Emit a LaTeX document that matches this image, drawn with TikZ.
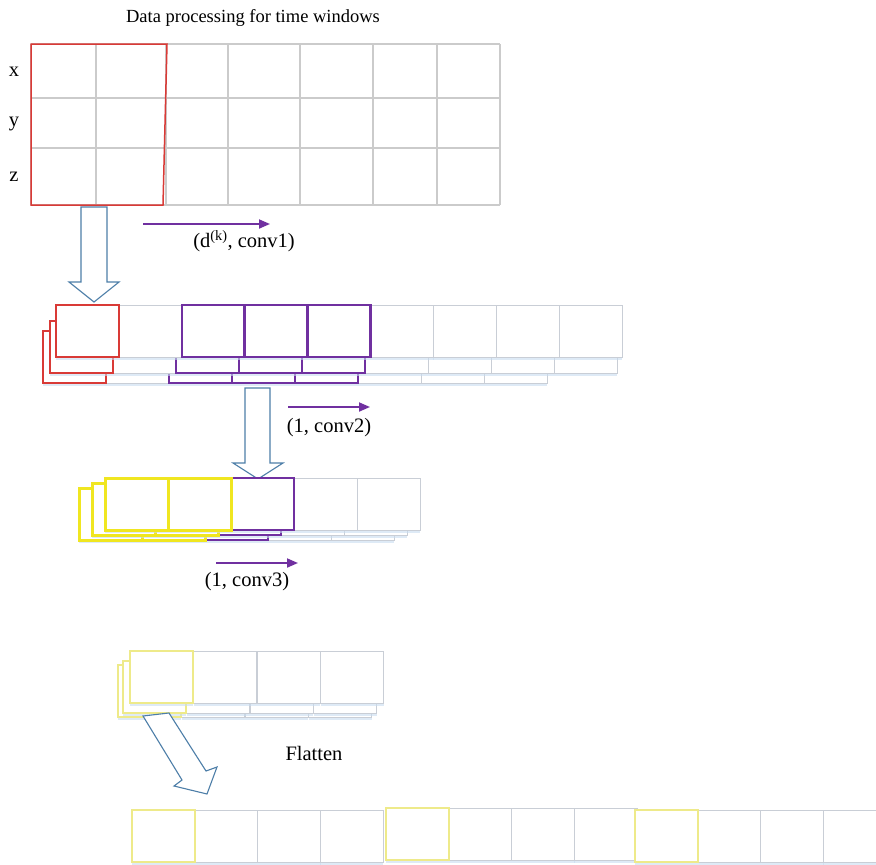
\documentclass[tikz,border=0pt]{standalone}
\usepackage{fontspec}
\setmainfont{Liberation Serif}
\usetikzlibrary{shadows,arrows.meta}

\definecolor{cellgrey}{HTML}{C9CED6}
\definecolor{gridgrey}{HTML}{CBCBCB}
\definecolor{winred}{HTML}{D93A36}
\definecolor{convpurple}{HTML}{7030A0}
\definecolor{poolyellow}{HTML}{F0E620}
\definecolor{paleyellow}{HTML}{EEEA8A}
\definecolor{arrowblue}{HTML}{4D7EA8}
\definecolor{shadowblue}{HTML}{C8DCF0}

\tikzset{
  cell/.style={draw=cellgrey, line width=1pt, fill=white,
    minimum width=63pt, minimum height=52pt, inner sep=0pt, outer sep=0pt,
    anchor=north west,
    drop shadow={shadow xshift=0pt, shadow yshift=-2.5pt, fill=shadowblue, opacity=0.6}},
  redcell/.style={cell, draw=winred, line width=1.2pt},
  purplecell/.style={cell, draw=convpurple, line width=2.6pt},
  thinpurple/.style={cell, draw=convpurple, line width=1.2pt},
  yellowcell/.style={cell, draw=poolyellow, line width=3pt},
  paleyellowcell/.style={cell, draw=paleyellow, line width=1.3pt},
  gridline/.style={draw=gridgrey, line width=1.3pt},
  hollow/.style={draw=arrowblue, line width=1.1pt, fill=white, line join=miter},
  convarrow/.style={draw=convpurple, line width=1.8pt, -{Triangle[length=11pt,width=9pt]}},
  lbl/.style={font=\fontsize{20.5}{22}\selectfont, inner sep=0pt},
  titlelbl/.style={font=\fontsize{18.5}{20}\selectfont, inner sep=0pt},
}

\begin{document}
\begin{tikzpicture}[x=1pt, y=-1pt]
\useasboundingbox[fill=white] (0,0) rectangle (876,865);

% ---- title and sensor axes ----
\node[titlelbl] (title) at (253,18) {Data processing for time windows};
\node[lbl] (ax) at (14,72) {x};
\node[lbl] (ay) at (14,124) {y};
\node[lbl] (az) at (14,177) {z};

% ---- raw data grid ----
\foreach \gx in {31,96,166,228,300,373,437,500}
  \draw[gridline] (\gx,44) -- (\gx,205);
\foreach \gy in {44,98,148,205}
  \draw[gridline] (31,\gy) -- (500,\gy);
\draw[draw=winred, line width=1.5pt] (31,44) -- (167,44) -- (163,205) -- (31,205) -- cycle;

% hollow arrow: grid -> conv1 maps
\draw[hollow] (81,207) -- (107,207) -- (107,282) -- (119,282) -- (94,302)
  -- (69,282) -- (81,282) -- cycle;

% conv1 stride arrow
\coordinate (c1s) at (143,224);
\coordinate (c1e) at (270,224);
\draw[convarrow] (c1s) -- (c1e);
\node[lbl] (c1l) at (244,241) {(d\textsuperscript{(k)}, conv1)};

% ---- conv1 feature maps (three stacked layers) ----
\foreach \i in {1,5,6,7} \node[cell] (pa\i) at ({43+63*\i},331) {};
\node[redcell] (pa0) at (43,331) {};
\foreach \i in {2,3,4} \node[purplecell] (pa\i) at ({43+63*\i},331) {};

\foreach \i in {1,5,6,7,8} \node[cell] (pb\i) at ({50+63*\i},321) {};
\node[redcell] (pb0) at (50,321) {};
\foreach \i in {2,3,4} \node[purplecell] (pb\i) at ({50+63*\i},321) {};

\foreach \i in {1,5,6,7,8} \node[cell] (pc\i) at ({56+62.9*\i},305) {};
\node[redcell] (pc0) at (56,305) {};
\foreach \i in {2,3,4} \node[purplecell] (pc\i) at ({56+62.9*\i},305) {};

% hollow arrow: conv1 -> conv2 maps
\draw[hollow] (245,388) -- (270,388) -- (270,463) -- (283,463) -- (258,479)
  -- (233,463) -- (245,463) -- cycle;

% conv2 stride arrow
\coordinate (c2s) at (288,407);
\coordinate (c2e) at (370,407);
\draw[convarrow] (c2s) -- (c2e);
\node[lbl] (c2l) at (329,428) {(1, conv2)};

% ---- conv2 feature maps ----
\foreach \i in {3,4} \node[cell] (qa\i) at ({79+63*\i},488) {};
\node[thinpurple] (qa2) at (205,488) {};
\foreach \i in {0,1} \node[yellowcell] (qa\i) at ({79+63*\i},488) {};

\foreach \i in {3,4} \node[cell] (qb\i) at ({92+63*\i},483) {};
\node[thinpurple] (qb2) at (218,483) {};
\foreach \i in {0,1} \node[yellowcell] (qb\i) at ({92+63*\i},483) {};

\foreach \i in {3,4} \node[cell] (qc\i) at ({105+63*\i},478) {};
\node[thinpurple] (qc2) at (231,478) {};
\foreach \i in {0,1} \node[yellowcell] (qc\i) at ({105+63*\i},478) {};

% conv3 stride arrow
\coordinate (c3s) at (216,563);
\coordinate (c3e) at (298,563);
\draw[convarrow] (c3s) -- (c3e);
\node[lbl] (c3l) at (247,582) {(1, conv3)};

% ---- conv3 feature maps ----
\foreach \i in {1,2,3} \node[cell] (ra\i) at ({118+63.5*\i},665) {};
\node[paleyellowcell] (ra0) at (118,665) {};
\foreach \i in {1,2,3} \node[cell] (rb\i) at ({123+63.5*\i},661) {};
\node[paleyellowcell] (rb0) at (123,661) {};
\foreach \i in {1,2,3} \node[cell] (rc\i) at ({130+63.5*\i},651) {};
\node[paleyellowcell] (rc0) at (130,651) {};

% hollow arrow: flatten
\draw[hollow] (143,716) -- (182,780) -- (174,786) -- (207,794) -- (217,767)
  -- (206,771) -- (169,713) -- cycle;
\node[lbl] (flat) at (314,753) {Flatten};

% ---- flattened vector ----
\foreach \i in {1,2,3} \node[cell] (fa\i) at ({132+62.8*\i},810) {};
\node[paleyellowcell] (fa0) at (132,810) {};
\foreach \i in {1,2,3} \node[cell] (fb\i) at ({386+62.8*\i},808) {};
\node[paleyellowcell] (fb0) at (386,808) {};
\foreach \i in {1,2,3} \node[cell] (fc\i) at ({635+62.8*\i},810) {};
\node[paleyellowcell] (fc0) at (635,810) {};
\end{tikzpicture}
\end{document}
